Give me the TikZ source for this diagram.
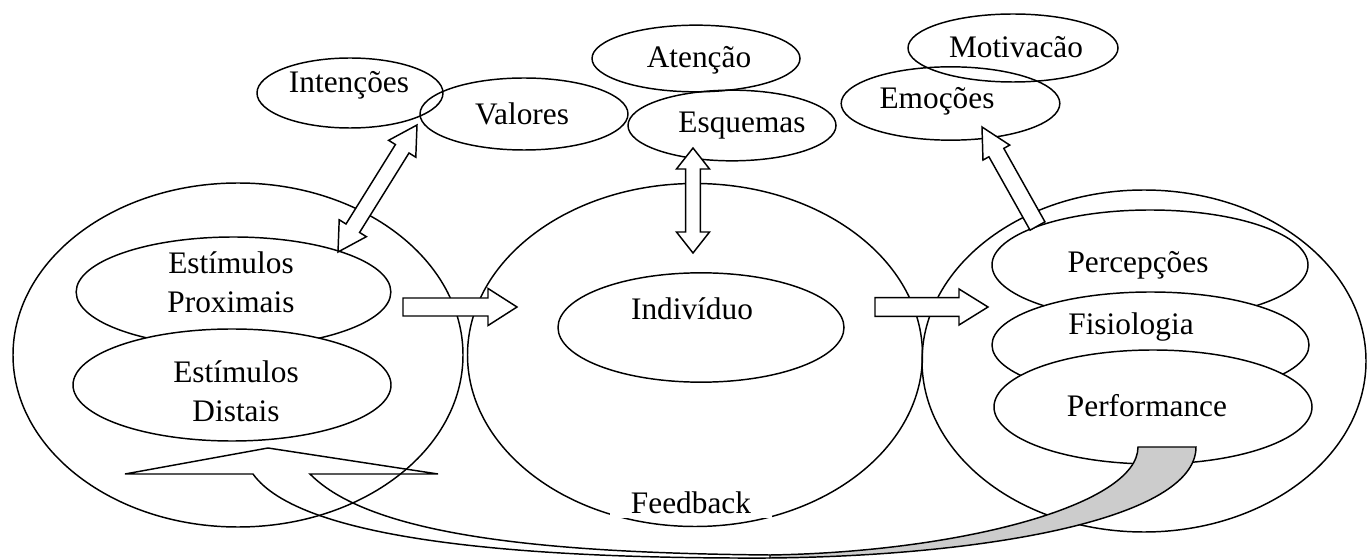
\documentclass[tikz,border=0pt]{standalone}
\usepackage{fontspec}
\setmainfont{Liberation Serif}
\usetikzlibrary{shapes.geometric,calc}

\tikzset{every picture/.style={line width=1.1pt}}
\tikzset{
	grande/.style={draw, ellipse, inner sep=0pt},
	topo/.style={draw, ellipse, inner sep=0pt},
	oval/.style={draw, ellipse, fill=white, inner sep=0pt},
	rotulo/.style={font=\fontsize{23.5}{29}\selectfont, align=center, inner sep=0pt},
	bloco/.style={draw, fill=white, line join=miter},
}

% block arrow: tail, tip, shaft half width, head half width, head length
\newcommand{\blkarrow}[5]{%
	\path ($(#2)!#5!(#1)$) coordinate (hb);
	\draw[bloco] ($(#1)!#3!90:(#2)$) -- ($(hb)!#3!90:(#2)$) -- ($(hb)!#4!90:(#2)$) -- (#2) -- ($(hb)!#4!-90:(#2)$) -- ($(hb)!#3!-90:(#2)$) -- ($(#1)!#3!-90:(#2)$) -- cycle ;}
% double block arrow: tip, tip, shaft half width, head half width, head length
\newcommand{\dblarrow}[5]{%
	\path ($(#1)!#5!(#2)$) coordinate (ha) ($(#2)!#5!(#1)$) coordinate (hb);
	\draw[bloco] (#1) -- ($(ha)!#4!90:(#2)$) -- ($(ha)!#3!90:(#2)$) -- ($(hb)!#3!-90:(#1)$) -- ($(hb)!#4!-90:(#1)$) -- (#2) -- ($(hb)!#4!90:(#1)$) -- ($(hb)!#3!90:(#1)$) -- ($(ha)!#3!-90:(#2)$) -- ($(ha)!#4!-90:(#2)$) -- cycle ;}

\begin{document}
\begin{tikzpicture}[x=0.75pt,y=0.75pt,yscale=-1,xscale=1]
	\useasboundingbox (0,0) rectangle (1367,559);
	
	%Shape: Big ellipses
	\node[grande, minimum width=337.5pt, minimum height=258pt] (esq) at (238,355) {};
	\node[grande, minimum width=341.25pt, minimum height=257.25pt] (meio) at (695,355) {};
	\node[grande, minimum width=333pt, minimum height=256.5pt] (dir) at (1144,361) {};
	
	%Shape: Top ellipses
	\node[topo, minimum width=139.5pt, minimum height=52.5pt] (intencoes) at (350,93) {};
	\node[topo, minimum width=156pt, minimum height=54pt] (valores) at (524,114) {};
	\node[topo, minimum width=156pt, minimum height=50pt] (atencao) at (696,58.5) {};
	\node[topo, minimum width=156pt, minimum height=53pt] (esquemas) at (732,125.5) {};
	\node[topo, minimum width=157.5pt, minimum height=51pt] (motivacao) at (1013,48) {};
	\node[topo, minimum width=164pt, minimum height=55pt] (emocoes) at (950.5,103.5) {};
	
	%Shape: Inner ellipses
	\node[oval, minimum width=236pt, minimum height=82.5pt] (proximais) at (233.5,292) {};
	\node[oval, minimum width=238.5pt, minimum height=84pt] (distais) at (232,385) {};
	\node[oval, minimum width=214.5pt, minimum height=82pt] (individuo) at (701,327.5) {};
	\node[oval, minimum width=237pt, minimum height=82.5pt] (percepcoes) at (1150,265) {};
	\node[oval, minimum width=237.75pt, minimum height=79.5pt] (fisiologia) at (1150.5,345) {};
	\node[oval, minimum width=238.5pt, minimum height=85.5pt] (performance) at (1153,407) {};
	
	%Block Arrows
	\coordinate (a1) at (403,307); \coordinate (a2) at (517,307);
	\blkarrow{a1}{a2}{6.75pt}{13.9pt}{21.75pt}
	\coordinate (b1) at (875,307); \coordinate (b2) at (988,307);
	\blkarrow{b1}{b2}{7pt}{13.5pt}{21.75pt}
	\coordinate (c1) at (693,148); \coordinate (c2) at (693,253);
	\dblarrow{c1}{c2}{5.6pt}{12.4pt}{15.75pt}
	\coordinate (d1) at (417,125); \coordinate (d2) at (338,252);
	\dblarrow{d1}{d2}{6pt}{12pt}{21pt}
	\coordinate (e1) at (1037.5,226); \coordinate (e2) at (982,127);
	\blkarrow{e1}{e2}{6.4pt}{11.5pt}{22pt}
	
	%Curved arrow (feedback)
	\filldraw[fill=gray!40] (1138,447) -- (1196,447) .. controls (1196,520) and (980,556) .. (770,558) -- (770,555) .. controls (960,552) and (1138,505) .. (1138,447) -- cycle ;
	\draw (770,558) .. controls (520,559) and (300,540) .. (253,474) -- (125,474) -- (268,448) -- (438,474) -- (310,474) .. controls (370,535) and (540,553) .. (770,555) ;
	
	% Text Node
	\node[rotulo] (tintencoes) at (349,85) {Intenções};
	% Text Node
	\node[rotulo] (tvalores) at (522,114) {Valores};
	% Text Node
	\node[rotulo] (tatencao) at (699,60) {Atenção};
	% Text Node
	\node[rotulo] (tesquemas) at (742,126) {Esquemas};
	% Text Node
	\node[rotulo] (tmotivacao) at (1016,47) {Motivacão};
	% Text Node
	\node[rotulo] (temocoes) at (937,101) {Emoções};
	% Text Node
	\node[rotulo] (tproximais) at (231,282.5) {Estímulos\\Proximais};
	% Text Node
	\node[rotulo] (tdistais) at (236,391) {Estímulos\\Distais};
	% Text Node
	\node[rotulo] (tindividuo) at (692,309) {Indivíduo};
	% Text Node
	\node[rotulo] (tpercepcoes) at (1138,265) {Percepções};
	% Text Node
	\node[rotulo] (tfisiologia) at (1131,327) {Fisiologia};
	% Text Node
	\node[rotulo] (tperformance) at (1147,406) {Performance};
	% Text Node
	\node[rotulo, fill=white, inner xsep=16pt, inner ysep=3pt] (tfeedback) at (691,503) {Feedback};
	
\end{tikzpicture}
\end{document}
